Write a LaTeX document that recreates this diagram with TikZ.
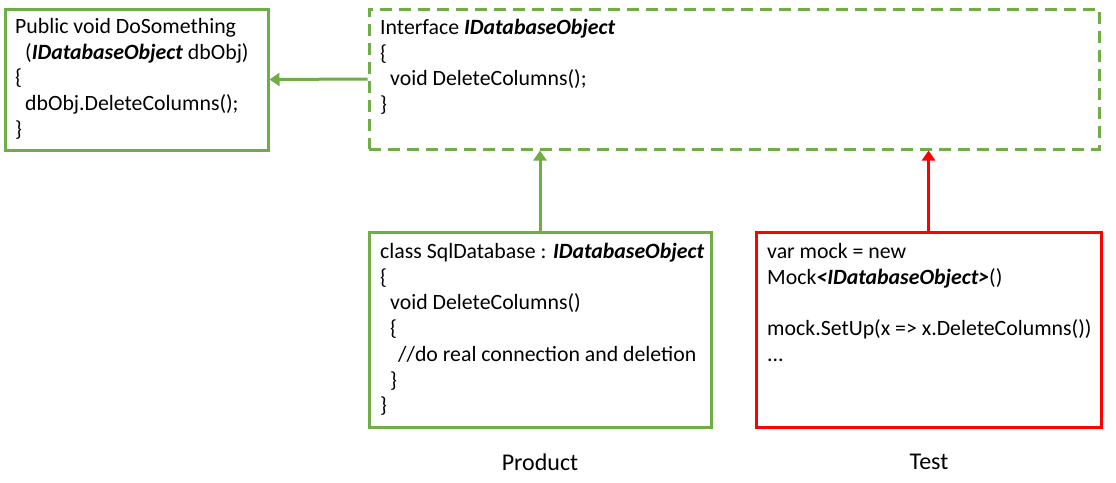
\documentclass[tikz,border=0pt]{standalone}
\usepackage{fontspec}
\setmainfont{Carlito}
\usetikzlibrary{arrows.meta}
\definecolor{prodgreen}{HTML}{70AD47}
\definecolor{testred}{HTML}{FF0000}
\newcommand{\ifacename}{\textbf{\textit{IDatabaseObject}}}

\begin{document}
\begin{tikzpicture}
  [x=1pt,y=-1pt,
   greenbox/.style={rectangle,draw=prodgreen,line width=3pt,inner sep=0},
   dashbox/.style={rectangle,draw=prodgreen,line width=3pt,inner sep=0,
                   dash pattern=on 12pt off 7pt},
   redbox/.style={rectangle,draw=testred,line width=3pt,inner sep=0},
   codetext/.style={anchor=north west,align=left,inner sep=0,
                    font=\fontsize{21.8}{25.7}\selectfont},
   caption/.style={inner sep=0,font=\fontsize{24}{28}\selectfont},
   link/.style={line width=3pt,-{Triangle[width=13pt,length=10pt]}}]
  \useasboundingbox (0,0) rectangle (1116,482);
  % frames
  \node[greenbox,minimum width=263pt,minimum height=141pt] (caller) at (136.5,79.5) {};
  \node[dashbox,minimum width=730pt,minimum height=140pt] (iface) at (734,79) {};
  \node[greenbox,minimum width=342pt,minimum height=195pt] (sqldb) at (540,329.5) {};
  \node[redbox,minimum width=345pt,minimum height=195pt] (mock) at (928.5,329.5) {};
  % code
  \node[codetext] (callertext) at (15,18) {Public void DoSomething\\
    \hspace*{10pt}(\ifacename{} dbObj)\\
    \{\\
    \hspace*{10pt}dbObj.DeleteColumns();\\
    \}};
  \node[codetext] (ifacetext) at (380,19) {Interface \ifacename\\
    \{\\
    \hspace*{10pt}void DeleteColumns();\\
    \}};
  \node[codetext] (sqldbtext) at (380,243) {class SqlDatabase : \ifacename\\
    \{\\
    \hspace*{10pt}void DeleteColumns()\\
    \hspace*{10pt}\{\\
    \hspace*{18pt}//do real connection and deletion\\
    \hspace*{10pt}\}\\
    \}};
  \node[codetext] (mocktext) at (767,243) {var mock = new\\
    Mock\textbf{\textit{<IDatabaseObject>}}()\\[25.7pt]
    mock.SetUp(x => x.DeleteColumns())\\
    ...};
  % captions
  \node[caption] (product) at (540,462) {Product};
  \node[caption] (test) at (929,462) {Test};
  % arrows
  \draw[link,draw=prodgreen] (iface.west) to (caller.east);
  \draw[link,draw=prodgreen] (sqldb.north) to (sqldb.north |- iface.south);
  \draw[link,draw=testred] (mock.north) to (mock.north |- iface.south);
\end{tikzpicture}
\end{document}
